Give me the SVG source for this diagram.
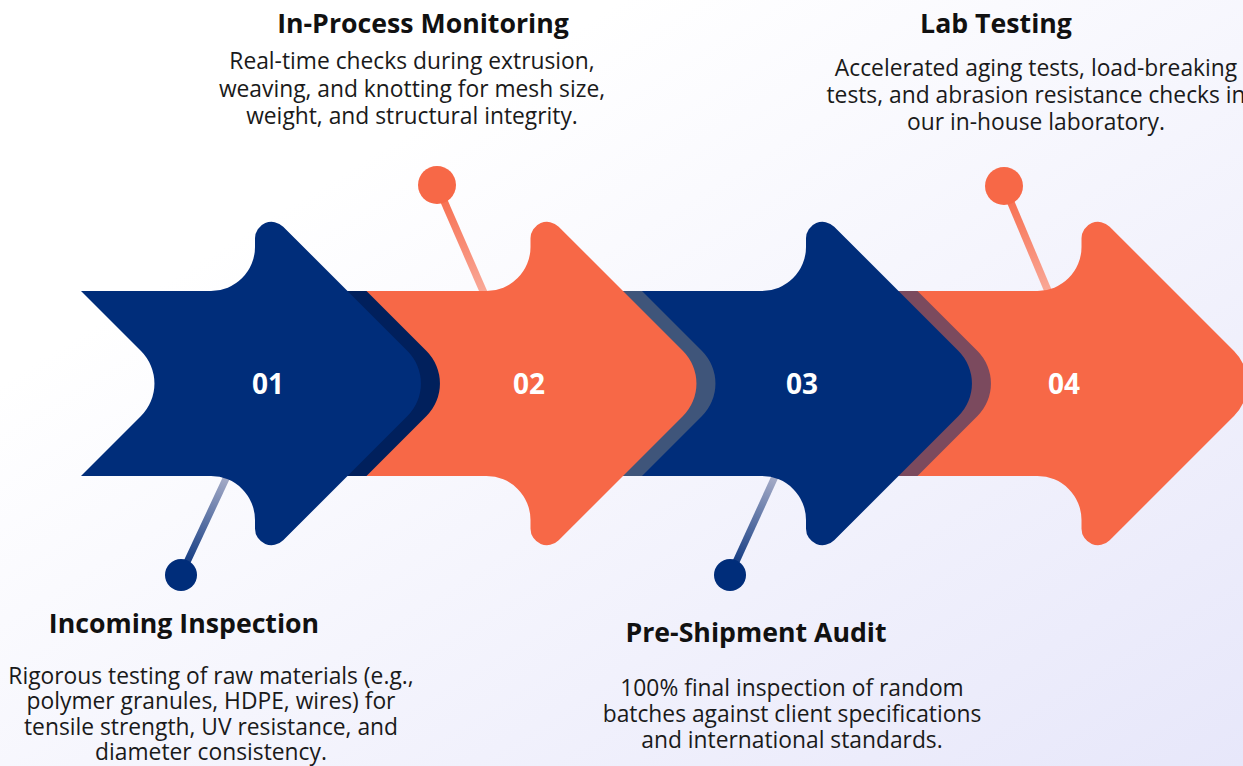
<svg xmlns="http://www.w3.org/2000/svg" width="1243" height="766" viewBox="0 0 1243 766">
<style>
.navy{fill:#002D7A}
.orange{fill:#F76847}
.num{font-family:"Open Sans","Noto Sans",sans-serif;font-weight:700;font-size:28px;fill:#FFFFFF;text-anchor:middle}
.title{font-family:"Open Sans","Noto Sans",sans-serif;font-weight:700;font-size:26.7px;fill:#111111;text-anchor:middle}
.desc{font-family:"Open Sans","Noto Sans",sans-serif;font-size:22.8px;fill:#1A1A1A;text-anchor:middle}
</style>
<defs>
<linearGradient id="bg" x1="0" y1="0" x2="1" y2="1">
<stop offset="0.25" stop-color="#FFFFFF"/>
<stop offset="1" stop-color="#E7E7FA"/>
</linearGradient>
<clipPath id="band" clipPathUnits="userSpaceOnUse"><rect x="-50" y="291" width="1400" height="185"/></clipPath>
<path id="p1" d="M81 291 L211 291 A44 44 0 0 0 255 247 L255 238.3 A16.5 16.5 0 0 1 283.2 226.7 L407.5 351 A46 46 0 0 1 407.5 416 L283.2 540.3 A16.5 16.5 0 0 1 255 528.7 L255 520 A44 44 0 0 0 211 476 L81 476 L141 416 A46 46 0 0 0 141 351 Z"/>
<path id="p2" d="M364.5 291 L486.5 291 A44 44 0 0 0 530.5 247 L530.5 238.3 A16.5 16.5 0 0 1 558.7 226.7 L683 351 A46 46 0 0 1 683 416 L558.7 540.3 A16.5 16.5 0 0 1 530.5 528.7 L530.5 520 A44 44 0 0 0 486.5 476 L364.5 476 L424.5 416 A46 46 0 0 0 424.5 351 Z"/>
<path id="p3" d="M640 291 L762 291 A44 44 0 0 0 806 247 L806 238.3 A16.5 16.5 0 0 1 834.2 226.7 L958.5 351 A46 46 0 0 1 958.5 416 L834.2 540.3 A16.5 16.5 0 0 1 806 528.7 L806 520 A44 44 0 0 0 762 476 L640 476 L700 416 A46 46 0 0 0 700 351 Z"/>
<path id="p4" d="M915.5 291 L1037.5 291 A44 44 0 0 0 1081.5 247 L1081.5 238.3 A16.5 16.5 0 0 1 1109.7 226.7 L1234 351 A46 46 0 0 1 1234 416 L1109.7 540.3 A16.5 16.5 0 0 1 1081.5 528.7 L1081.5 520 A44 44 0 0 0 1037.5 476 L915.5 476 L975.5 416 A46 46 0 0 0 975.5 351 Z"/>
<linearGradient id="g1" gradientUnits="userSpaceOnUse" x1="181" y1="575" x2="229" y2="472"><stop offset="0" stop-color="#002D7A"/><stop offset="1" stop-color="#AEB2CB"/></linearGradient>
<linearGradient id="g3" gradientUnits="userSpaceOnUse" x1="730" y1="575" x2="777" y2="472"><stop offset="0" stop-color="#002D7A"/><stop offset="1" stop-color="#AEB2CB"/></linearGradient>
<linearGradient id="g2" gradientUnits="userSpaceOnUse" x1="437" y1="185" x2="484" y2="292"><stop offset="0" stop-color="#F76847"/><stop offset="1" stop-color="#F9A898"/></linearGradient>
<linearGradient id="g4" gradientUnits="userSpaceOnUse" x1="1004" y1="186" x2="1048" y2="292"><stop offset="0" stop-color="#F76847"/><stop offset="1" stop-color="#F9A898"/></linearGradient>
</defs>
<rect width="1243" height="766" fill="url(#bg)"/>
<g id="connectors">
<g id="pin1"><line x1="181" y1="575" x2="230" y2="470" stroke="url(#g1)" stroke-width="7"/><circle cx="181" cy="575" r="16" class="navy"/></g>
<g id="pin2"><line x1="437" y1="185" x2="487" y2="300" stroke="url(#g2)" stroke-width="7.5"/><circle cx="437" cy="185" r="19" class="orange"/></g>
<g id="pin3"><line x1="730" y1="575" x2="778" y2="470" stroke="url(#g3)" stroke-width="7"/><circle cx="730" cy="575" r="16" class="navy"/></g>
<g id="pin4"><line x1="1004" y1="186" x2="1051" y2="298" stroke="url(#g4)" stroke-width="7.5"/><circle cx="1004" cy="186" r="19" class="orange"/></g>
</g>
<g id="step4">
<use href="#p4" class="orange"/>
<text class="num" x="1064" y="394">04</text>
<text class="title" x="996" y="33">Lab Testing</text>
<text class="desc"><tspan x="1036" y="76">Accelerated aging tests, load-breaking</tspan><tspan x="1036" y="103">tests, and abrasion resistance checks in</tspan><tspan x="1036" y="130">our in-house laboratory.</tspan></text>
</g>
<g id="step3">
<g clip-path="url(#band)"><use href="#p3" x="19" fill="#7B4A5E"/></g>
<use href="#p3" class="navy"/>
<text class="num" x="802" y="394">03</text>
<text class="title" x="756" y="642">Pre-Shipment Audit</text>
<text class="desc"><tspan x="792" y="696">100% final inspection of random</tspan><tspan x="792" y="722">batches against client specifications</tspan><tspan x="792" y="748">and international standards.</tspan></text>
</g>
<g id="step2">
<g clip-path="url(#band)"><use href="#p2" x="19" fill="#3F557A"/></g>
<use href="#p2" class="orange"/>
<text class="num" x="529" y="394">02</text>
<text class="title" x="423" y="33">In-Process Monitoring</text>
<text class="desc"><tspan x="412" y="69">Real-time checks during extrusion,</tspan><tspan x="412" y="97">weaving, and knotting for mesh size,</tspan><tspan x="412" y="124">weight, and structural integrity.</tspan></text>
</g>
<g id="step1">
<g clip-path="url(#band)"><use href="#p1" x="19" fill="#01205C"/></g>
<use href="#p1" class="navy"/>
<text class="num" x="268" y="394">01</text>
<text class="title" x="184" y="633">Incoming Inspection</text>
<text class="desc"><tspan x="211" y="684">Rigorous testing of raw materials (e.g.,</tspan><tspan x="211" y="709">polymer granules, HDPE, wires) for</tspan><tspan x="211" y="735">tensile strength, UV resistance, and</tspan><tspan x="211" y="760">diameter consistency.</tspan></text>
</g>
</svg>
